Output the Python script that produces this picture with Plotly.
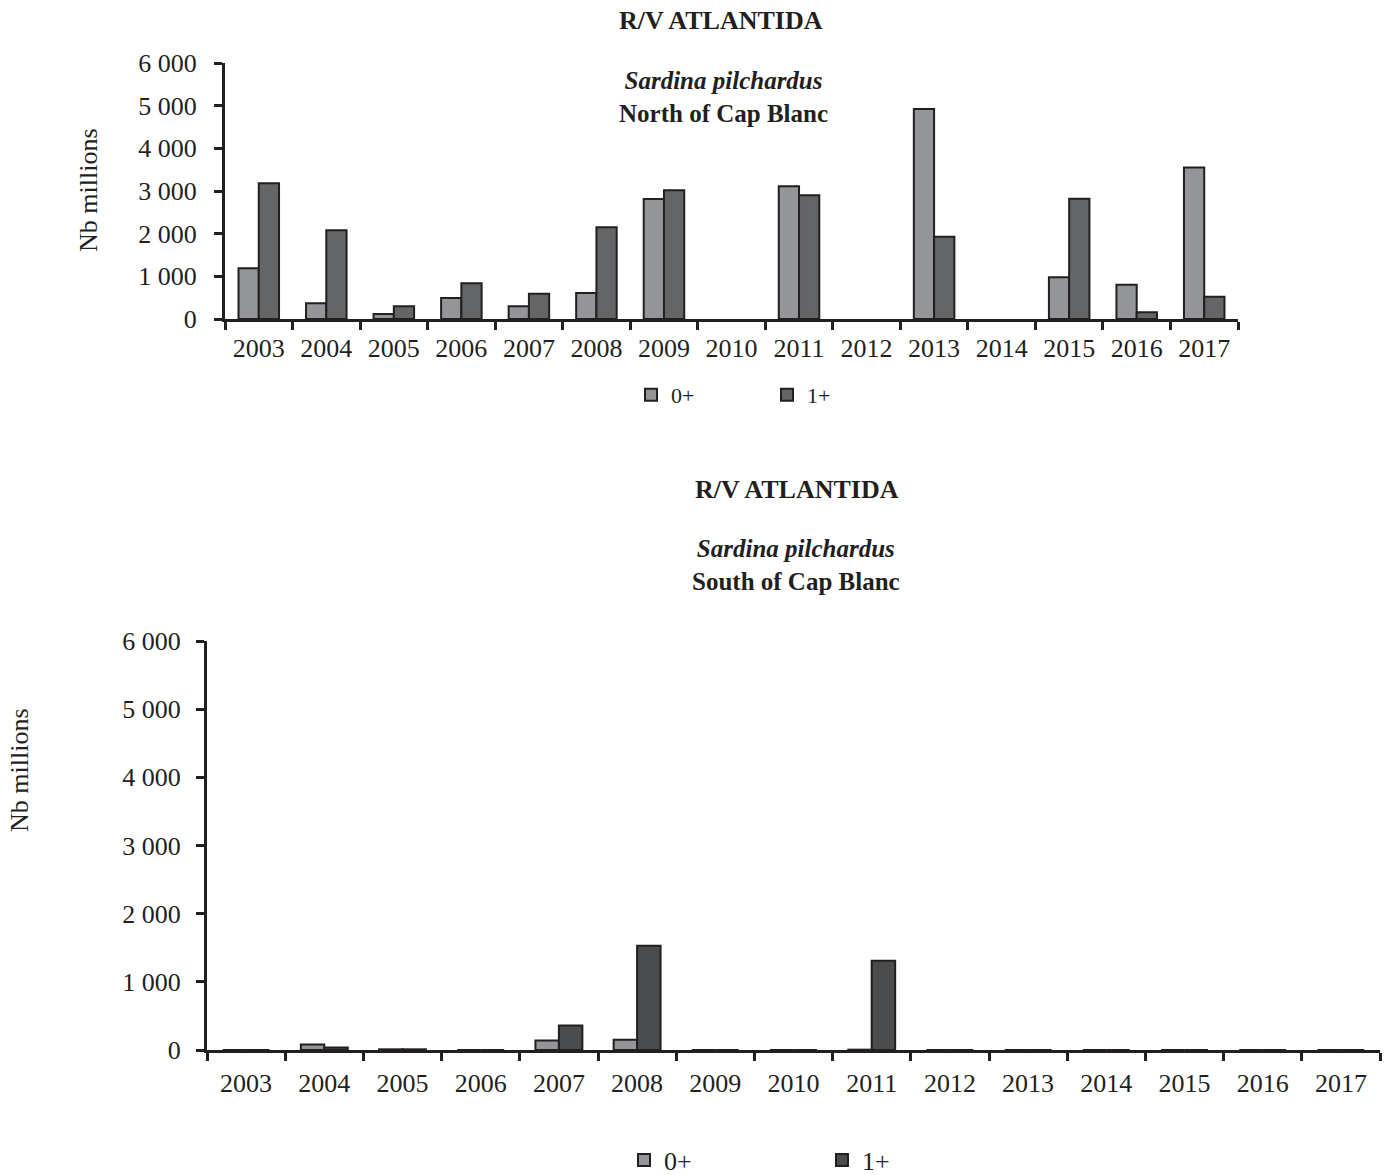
import plotly.graph_objects as go

W, H = 1394, 1175

years = ["2003", "2004", "2005", "2006", "2007", "2008", "2009", "2010",
         "2011", "2012", "2013", "2014", "2015", "2016", "2017"]

north_0 = [1190, 370, 120, 490, 300, 610, 2810, 0, 3110, 0, 4920, 0, 980, 800, 3550]
north_1 = [3180, 2080, 300, 840, 590, 2150, 3020, 0, 2900, 0, 1930, 0, 2820, 160, 520]

south_0 = [0, 80, 10, 0, 140, 150, 0, 0, 5, 0, 0, 0, 0, 0, 0]
south_1 = [0, 35, 10, 0, 360, 1530, 0, 0, 1310, 0, 0, 0, 0, 0, 0]

y_tickvals = [0, 1000, 2000, 3000, 4000, 5000, 6000]
y_ticktext = ["0", "1 000", "2 000", "3 000", "4 000", "5 000", "6 000"]

series_names = ["0+", "1+"]

FONT = "Liberation Serif, Times New Roman, serif"
INK = "#231f20"
C0 = "#939598"
C1_TOP = "#646567"
C1_BOT = "#4b4c4e"


def px_x(x):
    return x / W


def px_y(y):
    return 1 - y / H


def outline(vals):
    # no outline for empty (zero) bars so they vanish into the axis line
    return dict(color=INK, width=[2 if v > 0 else 0 for v in vals])


fig = go.Figure()

fig.add_trace(go.Bar(x=years, y=north_0, name=series_names[0], marker=dict(color=C0, line=outline(north_0)),
                     xaxis="x", yaxis="y", legend="legend"))
fig.add_trace(go.Bar(x=years, y=north_1, name=series_names[1], marker=dict(color=C1_TOP, line=outline(north_1)),
                     xaxis="x", yaxis="y", legend="legend"))
fig.add_trace(go.Bar(x=years, y=south_0, name=series_names[0], marker=dict(color=C0, line=dict(color=INK, width=2)),
                     xaxis="x2", yaxis="y2", legend="legend2"))
fig.add_trace(go.Bar(x=years, y=south_1, name=series_names[1], marker=dict(color=C1_BOT, line=dict(color=INK, width=2)),
                     xaxis="x2", yaxis="y2", legend="legend2"))

xcommon = dict(type="category", tickson="boundaries", ticks="outside", ticklen=8, tickwidth=3,
               tickcolor=INK, showline=True, linewidth=3, linecolor=INK, showgrid=False,
               zeroline=False, tickfont=dict(family=FONT, size=26, color=INK), automargin=False)
ycommon = dict(range=[0, 6000], tickvals=y_tickvals, ticktext=y_ticktext, ticks="outside", ticklen=8,
               tickwidth=3, tickcolor=INK, showline=True, linewidth=3, linecolor=INK, showgrid=False,
               zeroline=False, tickfont=dict(family=FONT, size=26, color=INK), automargin=False)

fig.update_layout(
    width=W, height=H,
    margin=dict(l=0, r=0, t=0, b=0, autoexpand=False),
    paper_bgcolor="white", plot_bgcolor="white",
    barmode="group", bargap=0.4, bargroupgap=0,
    font=dict(family=FONT, color=INK),
    xaxis=dict(domain=[px_x(225), px_x(1238)], anchor="y", ticklabelstandoff=4, **xcommon),
    yaxis=dict(domain=[px_y(319), px_y(63)], anchor="x", ticklabelstandoff=12, **ycommon),
    xaxis2=dict(domain=[px_x(207), px_x(1380)], anchor="y2", ticklabelstandoff=8, **xcommon),
    yaxis2=dict(domain=[px_y(1050), px_y(641)], anchor="x2", ticklabelstandoff=10, **ycommon),
    legend=dict(orientation="h", x=px_x(631), y=px_y(395), xanchor="left", yanchor="middle",
                font=dict(family=FONT, size=22, color=INK), entrywidth=91, entrywidthmode="pixels",
                bgcolor="rgba(0,0,0,0)", traceorder="normal"),
    legend2=dict(orientation="h", x=px_x(624), y=px_y(1160), xanchor="left", yanchor="middle",
                 font=dict(family=FONT, size=26, color=INK), entrywidth=153, entrywidthmode="pixels",
                 bgcolor="rgba(0,0,0,0)", traceorder="normal"),
    showlegend=True,
)

ann = [
    dict(text="<b>R/V ATLANTIDA</b>", x=px_x(721), y=px_y(21), size=26),
    dict(text="<b><i>Sardina pilchardus</i></b><br><b>North of Cap Blanc</b>", x=px_x(723), y=px_y(97), size=25),
    dict(text="<b>R/V ATLANTIDA</b>", x=px_x(797), y=px_y(489), size=26),
    dict(text="<b><i>Sardina pilchardus</i></b><br><b>South of Cap Blanc</b>", x=px_x(796), y=px_y(565), size=25),
]
for a in ann:
    fig.add_annotation(text=a["text"], x=a["x"], y=a["y"], xref="paper", yref="paper",
                       xanchor="center", yanchor="middle", showarrow=False,
                       font=dict(family=FONT, size=a["size"], color=INK))

for (xp, yp) in [(88, 190), (20, 770)]:
    fig.add_annotation(text="Nb millions", x=px_x(xp), y=px_y(yp), xref="paper", yref="paper",
                       xanchor="center", yanchor="middle", showarrow=False, textangle=-90,
                       font=dict(family=FONT, size=26, color=INK))

fig.write_html("out.html", config={"displayModeBar": False},
               post_script="document.body.style.margin='0px';")
